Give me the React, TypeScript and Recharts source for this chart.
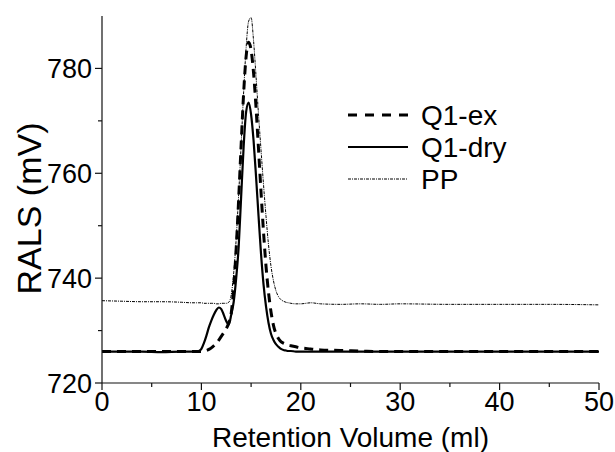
import React from "react";
import { LineChart, Line, XAxis, YAxis, Legend, Label } from "recharts";

// retention volume (ml)
const volume = [
  0, 2, 4, 6, 8, 9,
  9.5, 9.75, 10, 10.25, 10.5, 10.75, 11, 11.25, 11.5, 11.75, 12, 12.25, 12.5, 12.75,
  13, 13.25, 13.5, 13.75, 14, 14.25, 14.5, 14.75, 15, 15.25, 15.5, 15.75, 16, 16.25,
  16.5, 16.75, 17, 17.25, 17.5, 17.75, 18, 18.25, 18.5, 18.75, 19,
  19.5, 20, 21, 22, 24, 26, 28, 30, 35, 40, 45, 50,
];

// RALS signal (mV)
const q1Ex = [
  726.0, 726.0, 726.0, 726.0, 726.0, 726.0,
  726.0, 726.0, 726.0, 726.1, 726.2, 726.4, 726.7, 727.1, 727.6, 728.2, 728.9, 729.6, 730.4, 731.4,
  733.3, 738.2, 745.7, 755.1, 765.5, 775.3, 782.3, 785.0, 783.5, 779.1, 772.4, 764.5, 756.4, 748.8,
  742.3, 737.3, 733.6, 731.0, 729.4, 728.5, 727.9, 727.6, 727.4, 727.2, 727.1,
  726.9, 726.7, 726.5, 726.3, 726.2, 726.1, 726.0, 726.0, 726.0, 726.0, 726.0, 726.0,
];

const q1Dry = [
  726.0, 726.0, 726.0, 725.9, 726.0, 726.0,
  726.0, 726.1, 726.5, 727.6, 729.0, 730.6, 731.9, 733.0, 733.9, 734.4, 734.1, 733.0, 731.8, 731.2,
  733.0, 735.5, 740.0, 746.0, 755.6, 765.1, 771.7, 773.5, 771.2, 766.2, 759.3, 751.8, 744.6, 738.8,
  734.6, 731.5, 729.4, 728.2, 727.4, 726.9, 726.5, 726.3, 726.2, 726.1, 726.1,
  726.0, 726.0, 726.0, 726.0, 726.0, 726.0, 726.0, 726.0, 726.0, 726.0, 726.0, 726.0,
];

const pp = [
  735.7, 735.6, 735.5, 735.5, 735.4, 735.3,
  735.3, 735.3, 735.3, 735.2, 735.2, 735.2, 735.2, 735.2, 735.1, 735.1, 735.2, 735.2, 735.2, 735.4,
  736.8, 741.0, 747.5, 756.0, 765.5, 775.5, 784.0, 789.0, 789.7, 785.2, 778.4, 771.1, 764.4, 757.8,
  751.8, 746.4, 742.3, 739.5, 737.6, 736.5, 735.9, 735.6, 735.4, 735.3, 735.2,
  735.1, 735.1, 735.3, 735.1, 735.0, 735.1, 735.0, 735.1, 735.0, 735.0, 735.0, 734.9,
];

const xTicks = [0, 5, 10, 15, 20, 25, 30, 35, 40, 45, 50];
const xMajor = [0, 10, 20, 30, 40, 50];
const yTicks = [720, 730, 740, 750, 760, 770, 780];
const yMajor = [720, 740, 760, 780];

const FONT = '"Liberation Sans", Arial, Helvetica, sans-serif';

const data = volume.map((v, i) => ({ v, ex: q1Ex[i], dry: q1Dry[i], pp: pp[i] }));

function BottomTick(props: any) {
  const { x, y, payload } = props;
  const major = xMajor.includes(payload.value);
  return (
    <g>
      <line x1={x} y1={y} x2={x} y2={y + (major ? 7 : 4)} stroke="#111" strokeWidth={1.2} />
      {major && (
        <text x={x} y={y + 28} textAnchor="middle" fontSize={27} fontFamily={FONT} fill="#000">
          {payload.value}
        </text>
      )}
    </g>
  );
}

function LeftTick(props: any) {
  const { x, y, payload } = props;
  const major = yMajor.includes(payload.value);
  return (
    <g>
      <line x1={x - (major ? 7 : 4)} y1={y} x2={x} y2={y} stroke="#111" strokeWidth={1.2} />
      {major && (
        <text x={x - 10} y={y + 9.5} textAnchor="end" fontSize={27} fontFamily={FONT} fill="#000">
          {payload.value}
        </text>
      )}
    </g>
  );
}

function TopTick(props: any) {
  const { x, y, payload } = props;
  const major = xMajor.includes(payload.value);
  return <line x1={x} y1={y} x2={x} y2={y + (major ? 6 : 3)} stroke="#111" strokeWidth={1.2} />;
}

function RightTick(props: any) {
  const { x, y, payload } = props;
  const major = yMajor.includes(payload.value);
  return <line x1={x} y1={y} x2={x + (major ? 5 : 3)} y2={y} stroke="#111" strokeWidth={1.2} />;
}

const legendRows = [
  { name: "Q1-ex", width: 3, dash: "9 8" },
  { name: "Q1-dry", width: 2.2, dash: undefined },
  { name: "PP", width: 1, dash: "3 1 1 1" },
];

function LegendBox() {
  return (
    <svg width={200} height={100}>
      {legendRows.map((r, i) => {
        const cy = 17 + i * 32;
        return (
          <g key={r.name}>
            <line x1={8} y1={cy} x2={68} y2={cy} stroke="#000" strokeWidth={r.width} strokeDasharray={r.dash} />
            <text x={81} y={cy + 10} fontSize={28} fontFamily={FONT} fill="#000">
              {r.name}
            </text>
          </g>
        );
      })}
    </svg>
  );
}

export default function App() {
  return (
    <div style={{ position: "absolute", left: 0, top: 0, background: "#fff" }}>
      <LineChart width={615} height={452} data={data} margin={{ top: 16, right: 16, bottom: 0, left: 0 }}>
        <XAxis
          dataKey="v"
          type="number"
          domain={[0, 50]}
          ticks={xTicks}
          interval={0}
          tickSize={0}
          tickMargin={0}
          tick={BottomTick}
          tickLine={false}
          axisLine={{ stroke: "#111", strokeWidth: 1.2 }}
          height={69}
        >
          <Label
            content={({ viewBox }: any) => (
              <text
                x={viewBox.x + viewBox.width / 2}
                y={viewBox.y + 64}
                textAnchor="middle"
                fontSize={28}
                fontFamily={FONT}
                fill="#000"
              >
                Retention Volume (ml)
              </text>
            )}
          />
        </XAxis>
        <XAxis
          xAxisId="top"
          orientation="top"
          dataKey="v"
          type="number"
          domain={[0, 50]}
          ticks={xTicks}
          interval={0}
          tickSize={0}
          tickMargin={0}
          tick={TopTick}
          tickLine={false}
          axisLine={{ stroke: "#111", strokeWidth: 1.2 }}
          height={0}
        />
        <YAxis
          type="number"
          domain={[720, 790]}
          allowDataOverflow
          ticks={yTicks}
          interval={0}
          tickSize={0}
          tickMargin={0}
          tick={LeftTick}
          tickLine={false}
          axisLine={{ stroke: "#111", strokeWidth: 1.2 }}
          width={102}
        >
          <Label
            content={({ viewBox }: any) => (
              <text
                transform={`translate(${viewBox.x + 41}, ${viewBox.y + viewBox.height / 2 + 9}) rotate(-90)`}
                textAnchor="middle"
                fontSize={34}
                fontFamily={FONT}
                fill="#000"
              >
                RALS (mV)
              </text>
            )}
          />
        </YAxis>
        <YAxis
          yAxisId="right"
          orientation="right"
          type="number"
          domain={[720, 790]}
          ticks={yTicks}
          interval={0}
          tickSize={0}
          tickMargin={0}
          tick={RightTick}
          tickLine={false}
          axisLine={{ stroke: "#111", strokeWidth: 1.2 }}
          width={0}
        />
        <Legend
          content={LegendBox}
          layout="vertical"
          align="center"
          verticalAlign="middle"
          wrapperStyle={{ left: 340, top: 98, width: 200, height: 100 }}
        />
        <Line
          type="monotone"
          dataKey="pp"
          stroke="#000"
          strokeWidth={1}
          strokeDasharray="3 1 1 1"
          dot={false}
          isAnimationActive={false}
        />
        <Line
          type="monotone"
          dataKey="dry"
          stroke="#000"
          strokeWidth={2.2}
          dot={false}
          isAnimationActive={false}
        />
        <Line
          type="monotone"
          dataKey="ex"
          stroke="#000"
          strokeWidth={3}
          strokeDasharray="9 6"
          dot={false}
          isAnimationActive={false}
        />
      </LineChart>
    </div>
  );
}
